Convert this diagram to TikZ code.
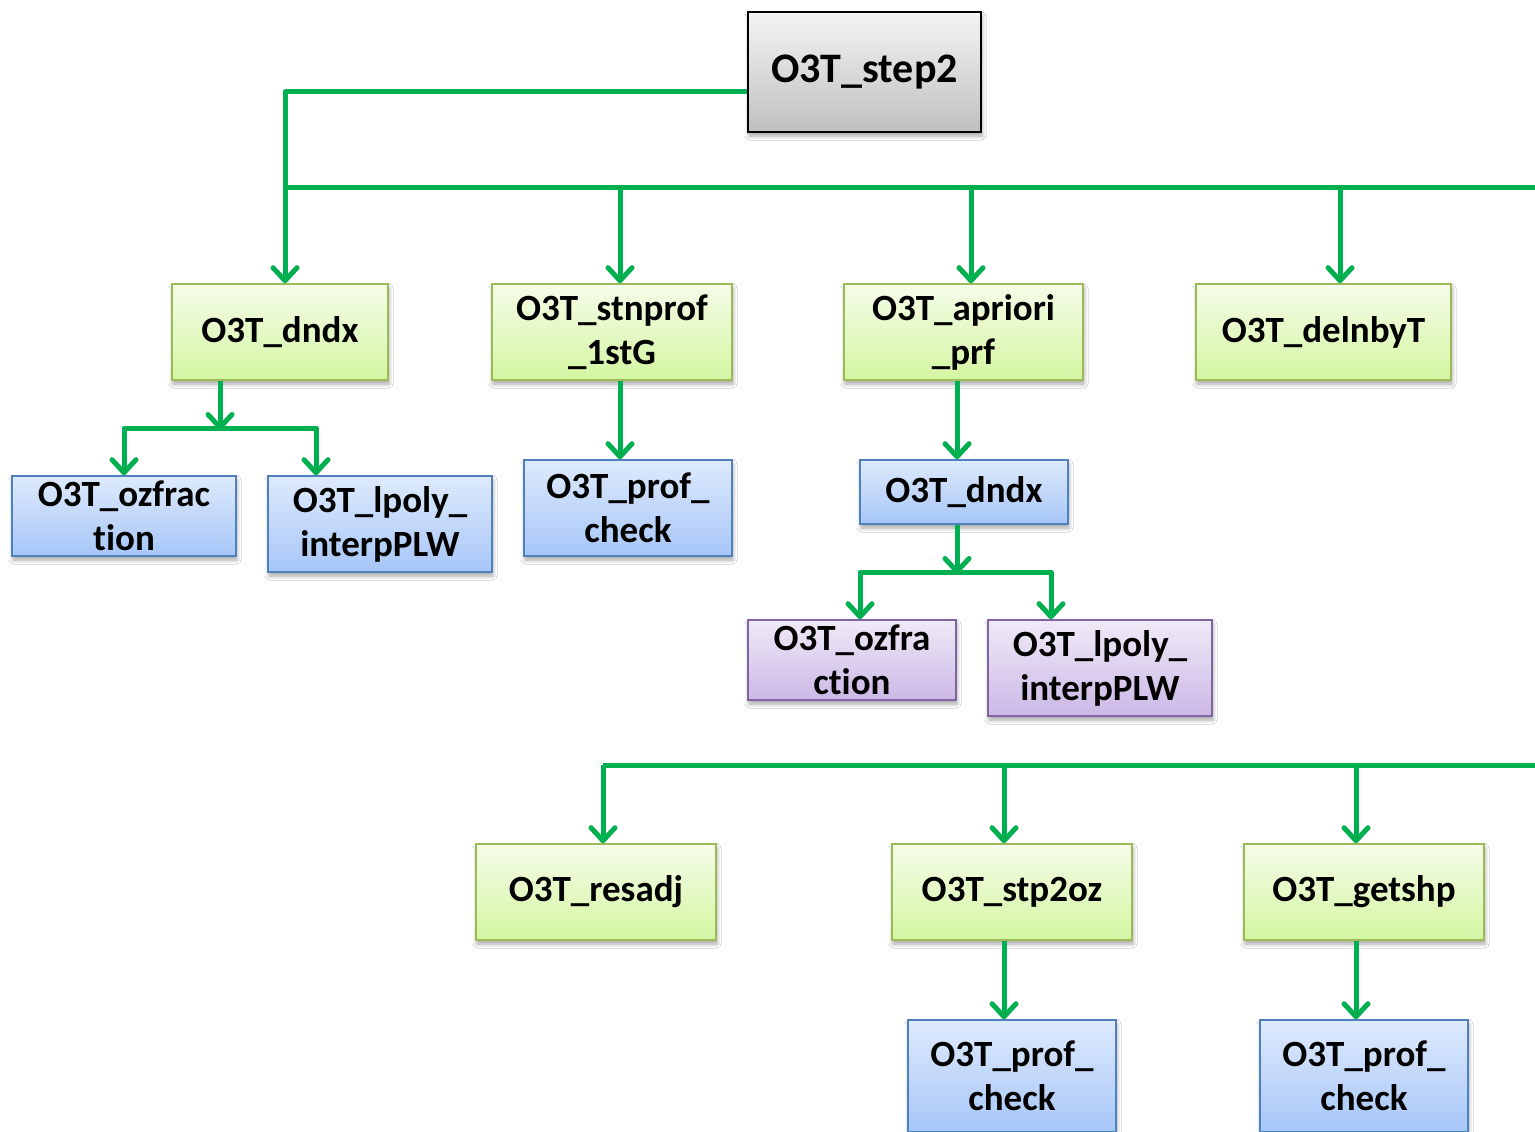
\documentclass[tikz,border=0pt]{standalone}
\usepackage{fontspec}
\setmainfont{Carlito}[Ligatures={NoCommon}]
\usetikzlibrary{arrows.meta,shadows.blur}

\definecolor{lineG}{HTML}{00B050}
\definecolor{gTop}{RGB}{245,252,232}
\definecolor{gBot}{RGB}{212,246,162}
\definecolor{gBord}{RGB}{155,187,89}
\definecolor{bTop}{RGB}{222,234,252}
\definecolor{bBot}{RGB}{166,198,248}
\definecolor{bBord}{RGB}{79,129,189}
\definecolor{pTop}{RGB}{240,234,247}
\definecolor{pBot}{RGB}{203,184,230}
\definecolor{pBord}{RGB}{128,100,162}
\definecolor{kTop}{RGB}{244,244,244}
\definecolor{kBot}{RGB}{192,192,192}

\tikzset{
  box/.style={draw, line width=1.6pt, inner sep=0pt, align=center,
    font=\bfseries\fontsize{37}{44}\selectfont,
    blur shadow={shadow xshift=1pt, shadow yshift=-4pt,
      shadow blur radius=4pt, shadow opacity=35}},
  gbox/.style={box, draw=gBord, top color=gTop, bottom color=gBot},
  bbox/.style={box, draw=bBord, top color=bTop, bottom color=bBot},
  pbox/.style={box, draw=pBord, top color=pTop, bottom color=pBot},
  kbox/.style={box, draw=black, top color=kTop, bottom color=kBot,
    font=\bfseries\fontsize{42}{48}\selectfont},
  wire/.style={draw=lineG, line width=5pt},
  conn/.style={wire, line join=round,
    -{Straight Barb[length=13pt, width=24pt, line cap=round, line join=round]}},
}

\begin{document}
\begin{tikzpicture}[x=1pt, y=-1pt]
\clip (0,0) rectangle (1535,1132);
\fill[white] (0,0) rectangle (1535,1132);

% root
\node[kbox, minimum width=233pt, minimum height=120pt] (step2) at (864.5,72) {O3T\_step2};

% first level
\node[gbox, minimum width=216pt, minimum height=96pt] (dndxA)   at (280,332)    {O3T\_dndx};
\node[gbox, minimum width=240pt, minimum height=96pt] (stnprof) at (612,332)    {O3T\_stnprof\\\_1stG};
\node[gbox, minimum width=239pt, minimum height=96pt] (apriori) at (963.5,332)  {O3T\_apriori\\\_prf};
\node[gbox, minimum width=255pt, minimum height=96pt] (delnbyT) at (1323.5,332) {O3T\_delnbyT};

% under O3T_dndx
\node[bbox, minimum width=224pt, minimum height=80pt] (ozfracA) at (124,516) {O3T\_ozfrac\\tion};
\node[bbox, minimum width=224pt, minimum height=96pt] (lpolyA)  at (380,524) {O3T\_lpoly\_\\interpPLW};

% under O3T_stnprof_1stG
\node[bbox, minimum width=208pt, minimum height=96pt] (profA) at (628,508) {O3T\_prof\_\\check};

% under O3T_apriori_prf
\node[bbox, minimum width=208pt, minimum height=64pt] (dndxB) at (964,492) {O3T\_dndx};
\node[pbox, minimum width=208pt, minimum height=80pt] (ozfraB) at (852,660)  {O3T\_ozfra\\ction};
\node[pbox, minimum width=224pt, minimum height=96pt] (lpolyB) at (1100,668) {O3T\_lpoly\_\\interpPLW};

% lower row
\node[gbox, minimum width=240pt, minimum height=96pt] (resadj) at (596,892)  {O3T\_resadj};
\node[gbox, minimum width=240pt, minimum height=96pt] (stp2oz) at (1012,892) {O3T\_stp2oz};
\node[gbox, minimum width=240pt, minimum height=96pt] (getshp) at (1364,892) {O3T\_getshp};
\node[bbox, minimum width=208pt, minimum height=112pt] (profB) at (1012,1076) {O3T\_prof\_\\check};
\node[bbox, minimum width=208pt, minimum height=112pt] (profC) at (1364,1076) {O3T\_prof\_\\check};

% bus coordinates
\coordinate (busA)  at (285,187);
\coordinate (busAe) at (1545,187);
\coordinate (jA)    at (220,428);
\coordinate (jB)    at (957,572);
\coordinate (busC)  at (603,765);
\coordinate (busCe) at (1545,765);

% root to first level
\draw[conn] ([yshift=-20pt]step2.west) -| ([xshift=5pt]dndxA.north);
\draw[wire] (busA) -- (busAe);
\draw[conn] ([xshift=8pt]stnprof.north |- busA)   -- ([xshift=8pt]stnprof.north);
\draw[conn] ([xshift=7.5pt]apriori.north |- busA) -- ([xshift=7.5pt]apriori.north);
\draw[conn] ([xshift=16.5pt]delnbyT.north |- busA) -- ([xshift=16.5pt]delnbyT.north);

% O3T_dndx branch
\draw[conn] ([xshift=-60pt]dndxA.south) -- ([yshift=-2pt]jA);
\draw[conn] (jA) -| (ozfracA.north);
\draw[conn] (jA) -| ([xshift=-64pt]lpolyA.north);

% O3T_stnprof_1stG branch
\draw[conn] ([xshift=8pt]stnprof.south) -- ([xshift=-8pt]profA.north);

% O3T_apriori_prf branch
\draw[conn] ([xshift=-6.5pt]apriori.south) -- ([xshift=-7pt]dndxB.north);
\draw[conn] ([xshift=-7pt]dndxB.south) -- ([yshift=-2pt]jB);
\draw[conn] (jB) -| ([xshift=8pt]ozfraB.north);
\draw[conn] (jB) -| ([xshift=-49pt]lpolyB.north);

% lower row
\draw[wire] (busC) -- (busCe);
\draw[conn] (busC) -- ([xshift=7pt]resadj.north);
\draw[conn] ([xshift=-8pt]stp2oz.north |- busC) -- ([xshift=-8pt]stp2oz.north);
\draw[conn] ([xshift=-8pt]getshp.north |- busC) -- ([xshift=-8pt]getshp.north);
\draw[conn] ([xshift=-8pt]stp2oz.south) -- ([xshift=-8pt]profB.north);
\draw[conn] ([xshift=-8pt]getshp.south) -- ([xshift=-8pt]profC.north);
\end{tikzpicture}
\end{document}
